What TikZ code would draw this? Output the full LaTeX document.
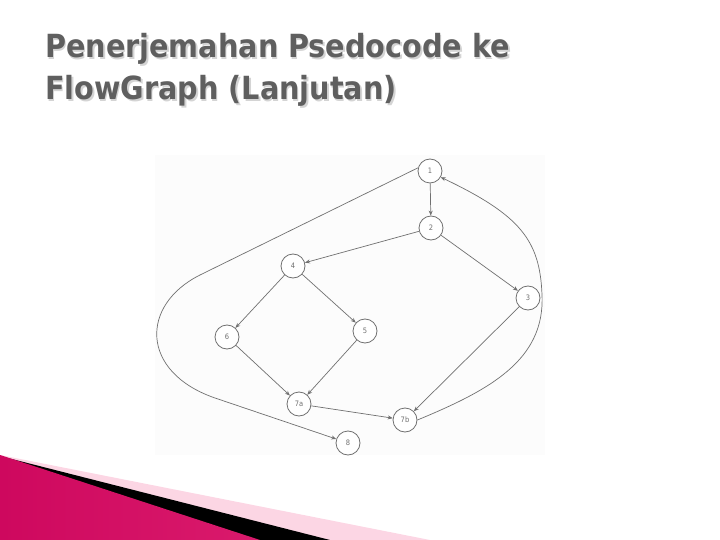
\documentclass[tikz,border=0pt]{standalone}
\usepackage{fontspec}
\setmainfont{DejaVu Sans Condensed}
\usetikzlibrary{arrows.meta}
\definecolor{edgec}{HTML}{707070}
\definecolor{titlec}{HTML}{5F5F5F}
\definecolor{shadowc}{HTML}{D4D4D4}
\definecolor{pinkl}{HTML}{FCD6E4}
\definecolor{magd}{HTML}{CE085E}
\definecolor{magm}{HTML}{EE4890}
\definecolor{magr}{HTML}{DA1A6C}
\definecolor{photobg}{HTML}{FCFCFC}
\begin{document}
\begin{tikzpicture}[x=1bp,y=-1bp,
  vtx/.style={circle,draw=edgec,line width=0.8bp,minimum size=24bp,inner sep=0pt,
    font=\fontsize{7.5}{8}\selectfont,text=edgec,fill=white},
  edge/.style={draw=edgec,line width=0.7bp,-{Stealth[length=5bp,width=4bp]}},
  titletext/.style={anchor=base west,inner sep=0pt,font=\fontsize{32}{37}\selectfont\bfseries}]
\useasboundingbox (0,0) rectangle (720,540);
% bottom-left decoration
\fill[pinkl] (0,455) -- (430,540) -- (0,540) -- cycle;
\fill[black] (0,456) -- (330,540) -- (0,540) -- cycle;
\shade[left color=magd,middle color=magm,right color=magr] (0,455) -- (260,540) -- (0,540) -- cycle;
% photo background
\fill[photobg] (155,155) rectangle (545,455);
% title
\node[titletext,text=shadowc] at (46.5,59.5) {Penerjemahan Psedocode ke};
\node[titletext,text=shadowc] at (46.5,101.5) {FlowGraph (Lanjutan)};
\node[titletext,text=titlec] (t1) at (45,58) {Penerjemahan Psedocode ke};
\node[titletext,text=titlec] (t2) at (45,100) {FlowGraph (Lanjutan)};
% nodes
\node[vtx] (n1) at (430,171) {1};
\node[vtx] (n2) at (431,228) {2};
\node[vtx] (n3) at (528,298) {3};
\node[vtx] (n4) at (293,266) {4};
\node[vtx] (n5) at (365,331) {5};
\node[vtx] (n6) at (227,337) {6};
\node[vtx] (n7a) at (299,404) {7a};
\node[vtx] (n7b) at (405,420) {7b};
\node[vtx] (n8) at (348,443) {8};
% edges
\draw[edge] (n1) -- (n2);
\draw[edge] (n2) -- (n4);
\draw[edge] (n2) -- (n3);
\draw[edge] (n4) -- (n6);
\draw[edge] (n4) -- (n5);
\draw[edge] (n6) -- (n7a);
\draw[edge] (n5) -- (n7a);
\draw[edge] (n7a) -- (n7b);
\draw[edge] (n3) -- (n7b);
\coordinate (a1) at (200,275);
\coordinate (a2) at (215,398);
\draw[edge] (n1.165) -- (a1) .. controls (140,305) and (140,372) .. (a2) -- (n8);
\coordinate (b1) at (542,295);
\draw[edge] (n7b.east) .. controls (490,390) and (545,360) .. (b1)
  .. controls (540,240) and (520,215) .. (n1.-30);
\end{tikzpicture}
\end{document}
